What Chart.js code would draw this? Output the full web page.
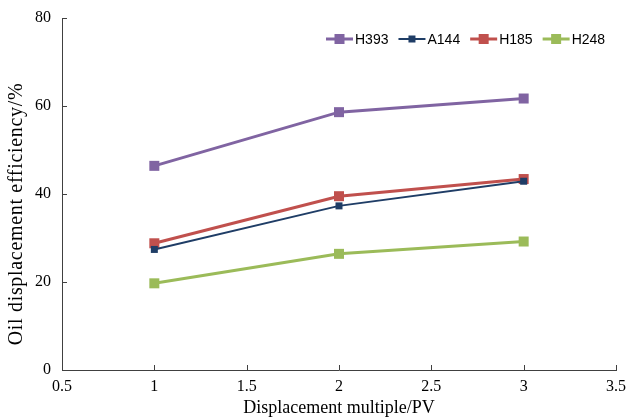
<!DOCTYPE html>
<html>
<head>
<meta charset="utf-8">
<script src="https://cdn.jsdelivr.net/npm/chart.js@4"></script>
<style>
  html, body { margin: 0; padding: 0; background: #fff; }
  #wrap { width: 627px; height: 419px; }
</style>
</head>
<body>
<div id="wrap"><canvas id="myChart" width="627" height="419"></canvas></div>
<script>
const pvMultiples = [1, 2, 3];
const h393 = [46.4, 58.6, 61.7];
const a144 = [27.4, 37.3, 42.9];
const h185 = [28.8, 39.5, 43.4];
const h248 = [19.7, 26.4, 29.2];
const xTicks = [0.5, 1, 1.5, 2, 2.5, 3, 3.5];
const yTicks = [0, 20, 40, 60, 80];
const yTitle = 'Oil displacement efficiency/%';

const serif = '"Liberation Serif", "Times New Roman", serif';
const axisColor = '#404040';

function series(label, values, color, side, width) {
    return {
        label: label,
        data: pvMultiples.map((x, i) => ({ x: x, y: values[i] })),
        borderColor: color,
        backgroundColor: color,
        borderWidth: width,
        pointStyle: 'rect',
        pointRadius: side / Math.SQRT2,
        pointHoverRadius: side / Math.SQRT2,
        pointBorderWidth: 0,
        tension: 0
    };
}

// inward tick marks, y title, line/marker legend top right
const extras = {
    id: 'extras',
    afterDraw(chart) {
        const ctx = chart.ctx;
        const xs = chart.scales.x, ys = chart.scales.y;
        const area = chart.chartArea;
        ctx.save();
        ctx.strokeStyle = axisColor;
        ctx.lineWidth = 1;
        ctx.beginPath();
        xTicks.forEach(v => {
            const px = Math.round(xs.getPixelForValue(v)) + 0.5;
            ctx.moveTo(px, area.bottom);
            ctx.lineTo(px, area.bottom - 5);
        });
        yTicks.forEach(v => {
            const py = Math.round(ys.getPixelForValue(v)) + 0.5;
            ctx.moveTo(area.left, py);
            ctx.lineTo(area.left + 5, py);
        });
        ctx.stroke();

        // y title
        ctx.save();
        ctx.font = '20px ' + serif;
        const plain = ctx.measureText(yTitle).width;
        ctx.letterSpacing = Math.max(0, (262 - plain) / (yTitle.length - 1)).toFixed(2) + 'px';
        ctx.translate(17, 214);
        ctx.rotate(-Math.PI / 2);
        ctx.fillStyle = '#000';
        ctx.textAlign = 'center';
        ctx.textBaseline = 'middle';
        ctx.fillText(yTitle, 0, 0);
        ctx.restore();

        ctx.font = '14px "Liberation Sans", Arial, sans-serif';
        ctx.textBaseline = 'middle';
        let x = 326;
        const y = 39;
        chart.data.datasets.forEach(ds => {
            ctx.strokeStyle = ds.borderColor;
            ctx.lineWidth = ds.borderWidth;
            ctx.beginPath();
            ctx.moveTo(x, y);
            ctx.lineTo(x + 27, y);
            ctx.stroke();
            const s = ds.pointRadius * Math.SQRT2;
            ctx.fillStyle = ds.backgroundColor;
            ctx.fillRect(x + 13.5 - s / 2, y - s / 2, s, s);
            ctx.fillStyle = '#000';
            ctx.fillText(ds.label, x + 29, y + 1);
            x += 29 + ctx.measureText(ds.label).width + 10;
        });
        ctx.restore();
    }
};

new Chart(document.getElementById('myChart').getContext('2d'), {
    type: 'line',
    data: {
        datasets: [
            series('H393', h393, '#8064A2', 10, 3),
            series('A144', a144, '#1F3D66', 7, 2),
            series('H185', h185, '#C0504D', 10, 3),
            series('H248', h248, '#9BBB59', 10, 3)
        ]
    },
    options: {
        responsive: false,
        animation: false,
        layout: { padding: { top: 18, right: 11, left: 0, bottom: 0 } },
        plugins: { legend: { display: false }, tooltip: { enabled: false } },
        scales: {
            x: {
                type: 'linear',
                min: 0.5,
                max: 3.5,
                afterBuildTicks: s => { s.ticks = xTicks.map(v => ({ value: v })); },
                afterFit: s => { s.height = 49; s.paddingLeft = 0; s.paddingRight = 0; },
                grid: { display: false, drawTicks: false },
                border: { display: true, color: axisColor, width: 1 },
                ticks: { color: '#000', font: { family: serif, size: 16 }, padding: 7, maxRotation: 0, callback: v => String(v) },
                title: { display: true, text: 'Displacement multiple/PV', color: '#000', font: { family: serif, size: 18 }, padding: { top: 0, bottom: 0 } }
            },
            y: {
                min: 0,
                max: 80,
                afterBuildTicks: s => { s.ticks = yTicks.map(v => ({ value: v })); },
                afterFit: s => { s.width = 62; s.paddingTop = 0; s.paddingBottom = 0; },
                grid: { display: false, drawTicks: false },
                border: { display: true, color: axisColor, width: 1 },
                ticks: { color: '#000', font: { family: serif, size: 16 }, padding: 11, callback: v => String(v) }
            }
        }
    },
    plugins: [extras]
});
</script>
</body>
</html>
